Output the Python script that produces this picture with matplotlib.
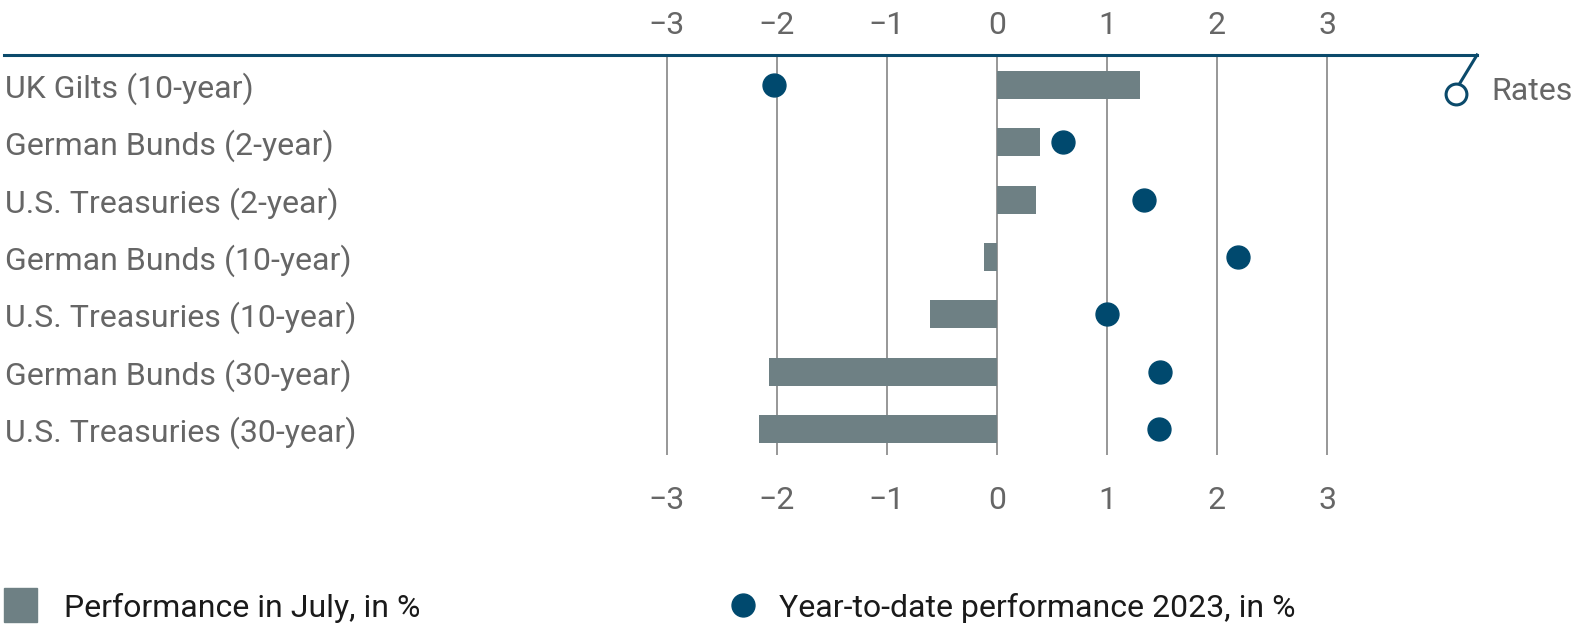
import matplotlib
matplotlib.use("Agg")
import matplotlib.pyplot as plt
from matplotlib.patches import Rectangle
from matplotlib.lines import Line2D

categories = [
    "UK Gilts (10-year)",
    "German Bunds (2-year)",
    "U.S. Treasuries (2-year)",
    "German Bunds (10-year)",
    "U.S. Treasuries (10-year)",
    "German Bunds (30-year)",
    "U.S. Treasuries (30-year)",
]
july_perf = [1.30, 0.39, 0.35, -0.12, -0.61, -2.07, -2.16]
ytd_perf = [-2.03, 0.60, 1.34, 2.19, 1.00, 1.48, 1.47]
ticks = [-3, -2, -1, 0, 1, 2, 3]
tick_labels = ["\u22123", "\u22122", "\u22121", "0", "1", "2", "3"]

BAR = "#6e8084"
DOT = "#00496e"
NAVY = "#0b4a6b"
GRID = "#7a7a7a"
TXT = "#666666"
FS = 23

plt.rcParams["font.family"] = ["Roboto", "DejaVu Sans"]

W, H = 1574, 627
fig = plt.figure(figsize=(W / 100, H / 100), dpi=100)

left_px, right_px, top_px, bot_px = 4, 1477, 55, 455
ax = fig.add_axes([left_px / W, 1 - bot_px / H, (right_px - left_px) / W, (bot_px - top_px) / H])
x0, ppu = 997, 110.0
ax.set_xlim((left_px - x0) / ppu, (right_px - x0) / ppu)
rowpx = 57.33
ax.set_ylim((bot_px - 85) / rowpx, (top_px - 85) / rowpx)

for t in ticks:
    ax.axvline(t, color=GRID, lw=1.1, zorder=1)

y = list(range(len(categories)))
ax.barh(y, july_perf, height=0.49, color=BAR, zorder=2)
ax.plot(ytd_perf, y, "o", color=DOT, markersize=16.5, zorder=3, linestyle="none")

for s in ["left", "right", "bottom"]:
    ax.spines[s].set_visible(False)
ax.spines["top"].set_color(NAVY)
ax.spines["top"].set_linewidth(2.2)

ax.set_xticks(ticks)
ax.set_xticklabels(tick_labels)
ax.tick_params(axis="x", which="both", top=False, bottom=False, labeltop=False,
               labelbottom=True, length=0, labelsize=FS, labelcolor=TXT, pad=22)

secax = ax.secondary_xaxis("top")
secax.set_xticks(ticks)
secax.set_xticklabels(tick_labels)
secax.tick_params(axis="x", length=0, labelsize=FS, labelcolor=TXT, pad=11)
secax.spines["top"].set_visible(False)

ax.set_yticks(y)
ax.set_yticklabels(categories)
ax.tick_params(axis="y", length=0, pad=-1, labelsize=FS, labelcolor=TXT)
for lbl in ax.get_yticklabels():
    lbl.set_horizontalalignment("left")

ax.set_facecolor("none")


def fx(px):
    return px / W


def fy(py):
    return 1 - py / H


# Rates marker
fig.add_artist(Line2D([fx(1477), fx(1460)], [fy(55), fy(83)], color=NAVY, lw=2.2,
                      transform=fig.transFigure))
fig.add_artist(Line2D([fx(1456)], [fy(94)], marker="o", markersize=15, markerfacecolor="white",
                      markeredgecolor=NAVY, markeredgewidth=2.2, transform=fig.transFigure))
fig.text(fx(1491), fy(100), "Rates", fontsize=FS, color=TXT, va="baseline", ha="left")

# Legend
fig.add_artist(Rectangle((fx(4), fy(622)), 33 / W, 34 / H, color=BAR, transform=fig.transFigure))
fig.text(fx(64), fy(617), "Performance in July, in %", fontsize=FS, color="#1a1a1a",
         va="baseline", ha="left")
fig.add_artist(Line2D([fx(743)], [fy(605)], marker="o", markersize=16.5, color=DOT,
                      linestyle="none", transform=fig.transFigure))
fig.text(fx(779), fy(617), "Year-to-date performance 2023, in %", fontsize=FS,
         color="#1a1a1a", va="baseline", ha="left")

fig.savefig("out.png", dpi=100, facecolor="white")
